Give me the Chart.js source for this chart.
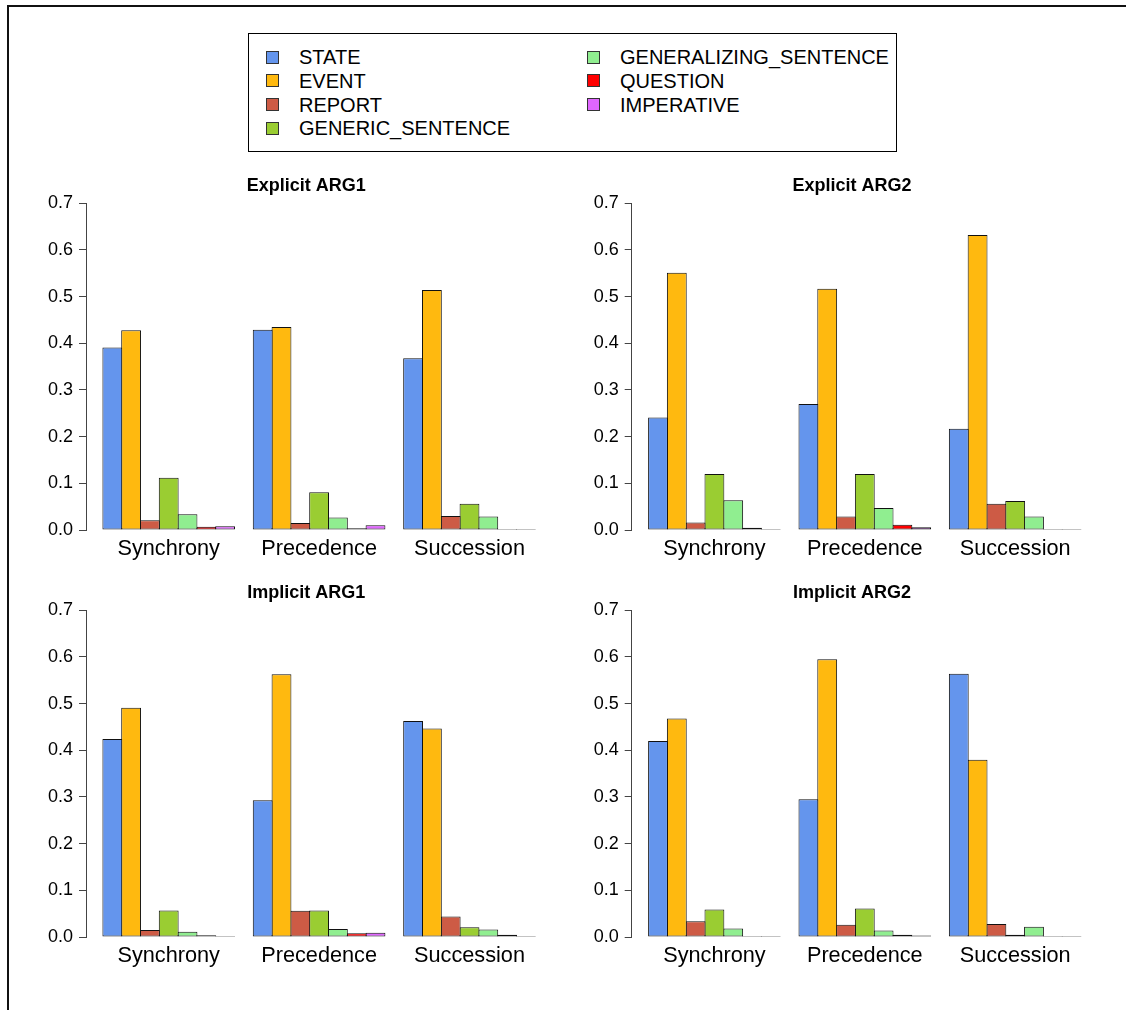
<!DOCTYPE html>
<html><head><meta charset="utf-8">
<script src="https://cdn.jsdelivr.net/npm/chart.js@4.4.1/dist/chart.umd.min.js"></script>
<style>
html,body{margin:0;padding:0;background:#fff;}
body{width:1126px;height:1010px;position:relative;overflow:hidden;font-family:"Liberation Sans",Arial,sans-serif;}
#frame{position:absolute;left:7px;top:5px;width:1300px;height:1200px;border-top:2px solid #111;border-left:2px solid #111;}
canvas{position:absolute;}
#legend{position:absolute;left:248px;top:33px;width:647px;height:117px;border:1px solid #000;background:#fff;}
.item{position:absolute;font-size:20px;line-height:20px;color:#000;white-space:nowrap;}
.sw{position:absolute;width:11px;height:11px;border:1px solid #333;}
</style></head>
<body>
<div id="frame"></div>
<div id="legend"></div>
<canvas id="c1" width="560" height="410" style="left:0px;top:160px"></canvas>
<canvas id="c2" width="566" height="410" style="left:560px;top:160px"></canvas>
<canvas id="c3" width="560" height="410" style="left:0px;top:567px"></canvas>
<canvas id="c4" width="566" height="410" style="left:560px;top:567px"></canvas>
<script>
// ---- data ----
const categories = ['Synchrony', 'Precedence', 'Succession'];
const seriesNames = ['STATE', 'EVENT', 'REPORT', 'GENERIC_SENTENCE', 'GENERALIZING_SENTENCE', 'QUESTION', 'IMPERATIVE'];
const yTickLabels = ['0.0', '0.1', '0.2', '0.3', '0.4', '0.5', '0.6', '0.7'];
const panelTitles = ['Explicit ARG1', 'Explicit ARG2', 'Implicit ARG1', 'Implicit ARG2'];
// rows: series (STATE..IMPERATIVE), columns: categories
const explicitArg1 = [
  [0.391, 0.429, 0.368],
  [0.428, 0.435, 0.514],
  [0.021, 0.015, 0.030],
  [0.112, 0.081, 0.056],
  [0.034, 0.027, 0.029],
  [0.007, 0.004, 0.002],
  [0.008, 0.010, 0.001]
];
const explicitArg2 = [
  [0.241, 0.270, 0.217],
  [0.551, 0.517, 0.632],
  [0.016, 0.029, 0.056],
  [0.120, 0.120, 0.062],
  [0.064, 0.047, 0.029],
  [0.005, 0.011, 0.002],
  [0.002, 0.006, 0.001]
];
const implicitArg1 = [
  [0.424, 0.293, 0.463],
  [0.491, 0.563, 0.447],
  [0.015, 0.056, 0.044],
  [0.057, 0.057, 0.021],
  [0.011, 0.017, 0.016],
  [0.004, 0.008, 0.005],
  [0.000, 0.009, 0.000]
];
const implicitArg2 = [
  [0.420, 0.295, 0.564],
  [0.468, 0.595, 0.380],
  [0.034, 0.026, 0.028],
  [0.059, 0.061, 0.005],
  [0.018, 0.014, 0.022],
  [0.000, 0.005, 0.000],
  [0.000, 0.003, 0.000]
];

// ---- styles ----
const seriesColors = ['#6495ED', '#FFB90F', '#CD5B45', '#9ACD32', '#90EE90', '#FF0000', '#E066FF'];
const FONT = '"Liberation Sans", Arial, sans-serif';

// legend (HTML)
const legendEl = document.getElementById('legend');
seriesNames.forEach((name, i) => {
  const col = i < 4 ? 0 : 1;
  const row = i < 4 ? i : i - 4;
  const cy = 23 + row * 23.8;
  const sw = document.createElement('div');
  sw.className = 'sw';
  sw.style.background = seriesColors[i];
  sw.style.left = (col === 0 ? 17 : 338) + 'px';
  sw.style.top = (cy - 6.5) + 'px';
  legendEl.appendChild(sw);
  const t = document.createElement('div');
  t.className = 'item';
  t.textContent = name;
  t.style.left = (col === 0 ? 50 : 371) + 'px';
  t.style.top = (cy - 10) + 'px';
  legendEl.appendChild(t);
});

const xMin = 0.45, xMax = 3.55;

// panel title drawn relative to the chart area
const panelTitlePlugin = {
  id: 'panelTitle',
  afterDraw(chart, args, opts) {
    const { ctx, chartArea } = chart;
    ctx.save();
    ctx.font = 'bold 18px ' + FONT;
    ctx.fillStyle = '#000';
    ctx.textAlign = 'center';
    ctx.textBaseline = 'middle';
    ctx.fillText(opts.text, chartArea.left + opts.dx, chartArea.top + opts.dy);
    ctx.restore();
  }
};

function makePanel(id, title, rows, geo) {
  new Chart(document.getElementById(id), {
    type: 'bar',
    plugins: [panelTitlePlugin],
    data: {
      datasets: seriesNames.map((name, s) => ({
        label: name,
        data: rows[s].map((v, i) => ({ x: i + 1, y: v })),
        backgroundColor: seriesColors[s],
        borderColor: '#111',
        borderWidth: 1,
        borderSkipped: false,
        minBarLength: 1,
        inflateAmount: 0,
        categoryPercentage: 0.875,
        barPercentage: 1.055
      }))
    },
    options: {
      responsive: false,
      animation: false,
      devicePixelRatio: 1,
      layout: { padding: { left: 0, right: geo.pr, top: 43.3, bottom: 0 } },
      plugins: {
        legend: { display: false },
        tooltip: { enabled: false },
        title: { display: false },
        panelTitle: { text: title, dx: 220.3, dy: -17.3 }
      },
      scales: {
        x: {
          type: 'linear', min: xMin, max: xMax, offset: false,
          afterBuildTicks: s => { s.ticks = categories.map((c, i) => ({ value: i + 1 })); },
          afterFit: s => { s.height = 40; },
          grid: { display: false, drawTicks: false },
          border: { display: false },
          ticks: {
            callback: (v, i) => categories[i],
            font: { family: FONT, size: 21.7 }, color: '#000', padding: 6,
            maxRotation: 0, autoSkip: false
          }
        },
        y: {
          min: 0, max: 0.7,
          afterBuildTicks: s => { s.ticks = yTickLabels.map(t => ({ value: parseFloat(t) })); },
          afterFit: s => { s.width = geo.yw; },
          grid: { drawOnChartArea: false, drawTicks: true, tickLength: 7, color: '#444', lineWidth: 1 },
          border: { display: true, color: '#444', width: 1 },
          ticks: {
            callback: (v, i) => yTickLabels[i],
            font: { family: FONT, size: 18 }, color: '#000', padding: 6, autoSkip: false
          }
        }
      }
    }
  });
}

// geometry: left panels axis at x=86, right panels axis at x=631.7 (page)
const leftGeo = { yw: 86, pr: 7.8 };
const rightGeo = { yw: 71.7, pr: 28.1 };
makePanel('c1', panelTitles[0], explicitArg1, leftGeo);
makePanel('c2', panelTitles[1], explicitArg2, rightGeo);
makePanel('c3', panelTitles[2], implicitArg1, leftGeo);
makePanel('c4', panelTitles[3], implicitArg2, rightGeo);
</script>
</body></html>
